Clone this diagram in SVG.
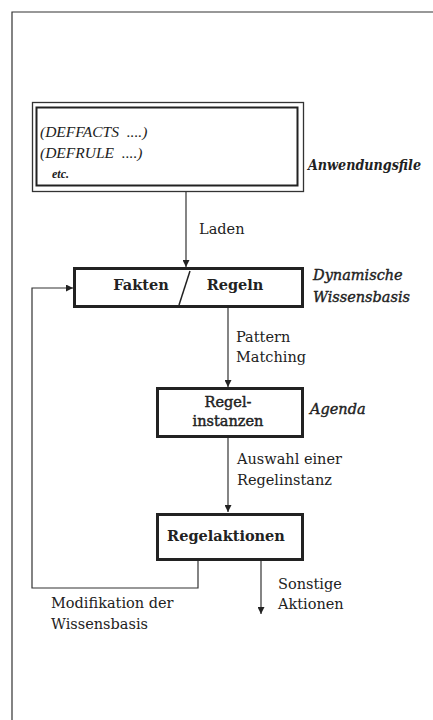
<svg xmlns="http://www.w3.org/2000/svg" width="433" height="720" viewBox="0 0 433 720">
<style>
.t{font-family:"DejaVu Serif","Liberation Serif",serif;fill:#222;font-size:14.5px}
.s{font-family:"Liberation Serif","Times New Roman",serif;fill:#222;white-space:pre}
.b{font-weight:bold}
.i{font-style:italic}
.box{fill:#fff;stroke:#222;stroke-width:3}
.thin{fill:none;stroke:#333;stroke-width:1.3}
.ln{fill:none;stroke:#333;stroke-width:1.2}
</style>
<defs>
<marker id="ah" viewBox="0 0 10 10" refX="10" refY="5" markerWidth="7" markerHeight="7" markerUnits="userSpaceOnUse" orient="auto">
<path d="M0,0 L10,5 L0,10 z" fill="#222"/>
</marker>
</defs>
<rect width="433" height="720" fill="#fff"/>
<path d="M12,720 V12 H433" class="ln" stroke-width="1.5"/>

<g id="connectors">
<path d="M186,191 V267" class="ln" marker-end="url(#ah)"/>
<path d="M228,307 V387" class="ln" marker-end="url(#ah)"/>
<path d="M228,437 V512" class="ln" marker-end="url(#ah)"/>
<path d="M261,560 V614" class="ln" marker-end="url(#ah)"/>
<path d="M198,560 V588 H32 V288 H73" class="ln" marker-end="url(#ah)"/>
<text class="t" x="199" y="234">Laden</text>
<text class="t" x="236" y="342">Pattern</text>
<text class="t" x="236" y="362">Matching</text>
<text class="t" x="237" y="464">Auswahl einer</text>
<text class="t" x="237" y="485">Regelinstanz</text>
<text class="t" x="278" y="589">Sonstige</text>
<text class="t" x="278" y="609">Aktionen</text>
<text class="t" x="51" y="608">Modifikation der</text>
<text class="t" x="51" y="629">Wissensbasis</text>
</g>

<g id="anwendungsfile">
<rect x="32.5" y="102.5" width="271" height="89" class="thin"/>
<rect x="36.5" y="107.5" width="261" height="78" fill="none" stroke="#222" stroke-width="2"/>
<text class="s i" x="40" y="137" font-size="15.5">(DEFFACTS  ....)</text>
<text class="s i" x="40" y="158" font-size="15.5">(DEFRULE  ....)</text>
<text class="s i b" x="52" y="178" font-size="12">etc.</text>
<text class="t i b" x="308" y="170" font-size="12" textLength="113" lengthAdjust="spacingAndGlyphs">Anwendungsfile</text>
</g>

<g id="wissensbasis">
<rect x="74.5" y="268.5" width="228" height="38" class="box"/>
<line x1="190" y1="271" x2="179" y2="305" stroke="#222" stroke-width="1.5"/>
<text class="t b" x="141" y="290" text-anchor="middle" font-size="14">Fakten</text>
<text class="t b" x="235" y="290" text-anchor="middle" font-size="14">Regeln</text>
<text class="t i" x="313" y="280" stroke="#222" stroke-width="0.4">Dynamische</text>
<text class="t i" x="313" y="302" stroke="#222" stroke-width="0.4">Wissensbasis</text>
</g>

<g id="agenda">
<rect x="157.5" y="388.5" width="145" height="48" class="box"/>
<text class="t" x="228" y="407" text-anchor="middle" stroke="#222" stroke-width="0.45">Regel-</text>
<text class="t" x="228" y="426" text-anchor="middle" stroke="#222" stroke-width="0.45">instanzen</text>
<text class="t i" x="310" y="414" stroke="#222" stroke-width="0.4">Agenda</text>
</g>

<g id="regelaktionen">
<rect x="157.5" y="514.5" width="145" height="45" class="box"/>
<text class="t b" x="226" y="541" text-anchor="middle" font-size="14">Regelaktionen</text>
</g>
</svg>
